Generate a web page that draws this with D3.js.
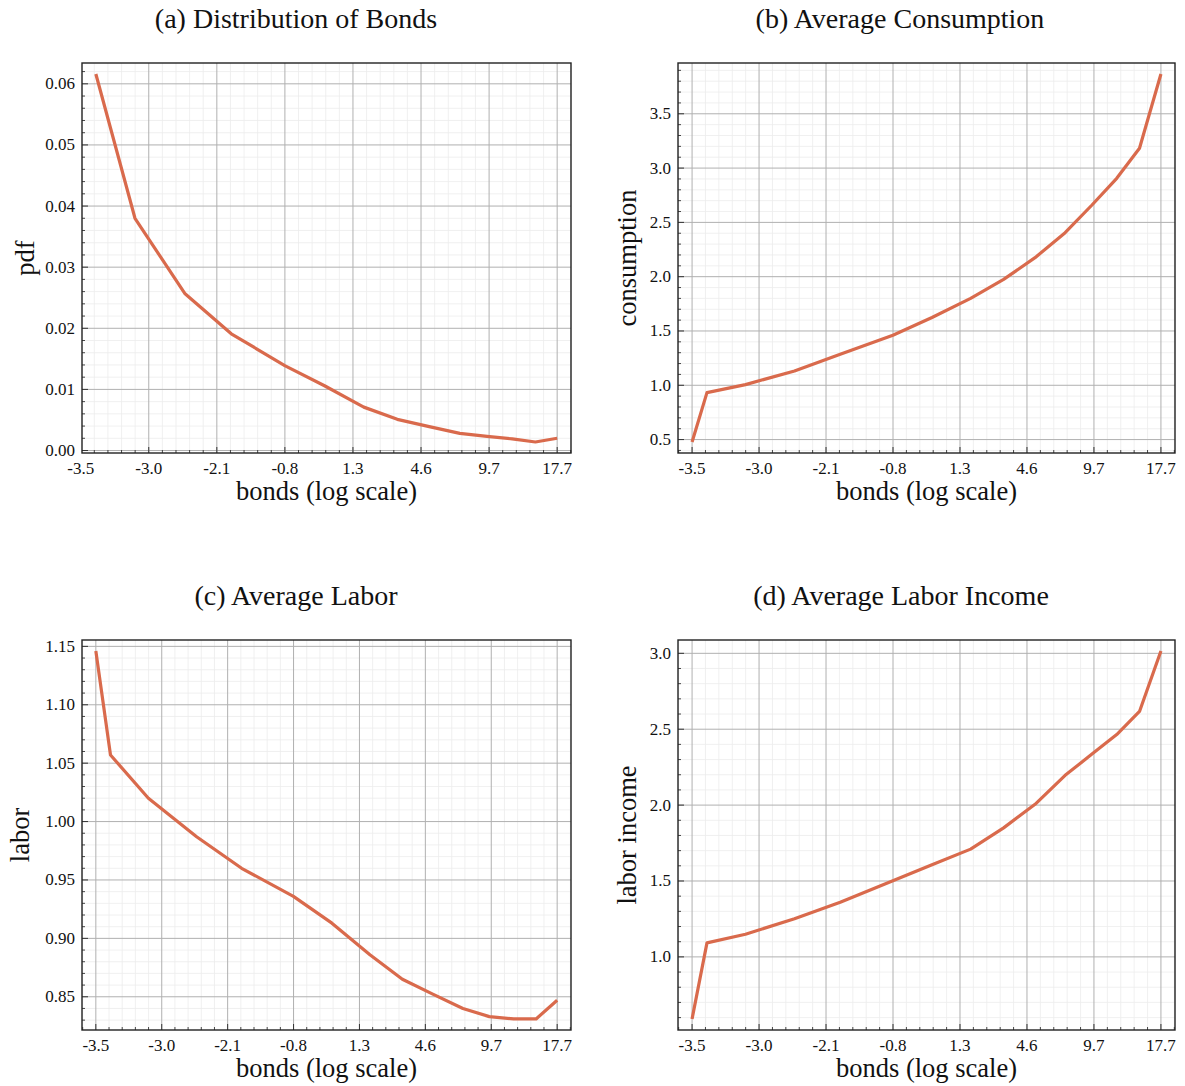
<!DOCTYPE html>
<html>
<head>
<meta charset="utf-8">
<script src="https://cdn.jsdelivr.net/npm/d3@7"></script>
<style>
  html, body { margin: 0; padding: 0; background: #fff; }
  svg { display: block; }
  text { font-family: "Liberation Serif", "DejaVu Serif", serif; fill: #111; }
</style>
</head>
<body>
<svg id="fig" width="1185" height="1086"></svg>
<script>
// Bond grid (levels); the axis is logarithmic in bonds + BOND_SHIFT
const BOND_SHIFT = 4.45;
const bonds = [-3.50, -3.40, -3.09, -2.56, -1.88, -0.79, 0.31, 1.72, 3.25, 5.06, 7.19, 9.49, 12.01, 14.73, 17.70];

// Stationary density of bonds (defined from the second grid point on)
const pdf = [0.0616, 0.0380, 0.0257, 0.0191, 0.0139, 0.0106, 0.0071, 0.0051, 0.0039, 0.0028, 0.0023, 0.0019, 0.0014, 0.0020];
// Averages by bond level
const consumption = [0.478, 0.932, 1.006, 1.132, 1.286, 1.461, 1.624, 1.800, 1.975, 2.175, 2.405, 2.660, 2.906, 3.183, 3.866];
const labor = [1.146, 1.057, 1.020, 0.987, 0.960, 0.936, 0.913, 0.886, 0.865, 0.852, 0.840, 0.833, 0.831, 0.831, 0.847];
const laborIncome = [0.591, 1.092, 1.149, 1.251, 1.360, 1.501, 1.607, 1.710, 1.850, 2.005, 2.196, 2.336, 2.465, 2.617, 3.015];

// Tick labels
const xTickLabels = ["-3.5", "-3.0", "-2.1", "-0.8", "1.3", "4.6", "9.7", "17.7"];
const pdfTicks = [0.00, 0.01, 0.02, 0.03, 0.04, 0.05, 0.06];
const consumptionTicks = [0.5, 1.0, 1.5, 2.0, 2.5, 3.0, 3.5];
const laborTicks = [0.85, 0.90, 0.95, 1.00, 1.05, 1.10, 1.15];
const incomeTicks = [1.0, 1.5, 2.0, 2.5, 3.0];

const titles = ["(a) Distribution of Bonds", "(b) Average Consumption", "(c) Average Labor", "(d) Average Labor Income"];
const yLabels = ["pdf", "consumption", "labor", "labor income"];

const LINE_COLOR = "#d96a4c";
const svg = d3.select("#fig");

const panels = [
  { frame: [82, 63, 571, 453], xs: bonds.slice(1), ys: pdf, yTicks: pdfTicks, fmt: ".2f", title: titles[0], yLabel: yLabels[0], titleX: 296, yLabelX: 28 },
  { frame: [678, 63, 1175, 453], xs: bonds, ys: consumption, yTicks: consumptionTicks, fmt: ".1f", title: titles[1], yLabel: yLabels[1], titleX: 900, yLabelX: 630 },
  { frame: [82, 640, 571, 1030], xs: bonds, ys: labor, yTicks: laborTicks, fmt: ".2f", title: titles[2], yLabel: yLabels[2], titleX: 296, yLabelX: 23 },
  { frame: [678, 640, 1175, 1030], xs: bonds, ys: laborIncome, yTicks: incomeTicks, fmt: ".1f", title: titles[3], yLabel: yLabels[3], titleX: 901, yLabelX: 630 }
];

// Major x ticks are evenly spaced in log(bonds + shift) between the grid ends
const logLo = Math.log(bonds[0] + BOND_SHIFT);
const logHi = Math.log(bonds[bonds.length - 1] + BOND_SHIFT);
const logStep = (logHi - logLo) / (xTickLabels.length - 1);
const xTickValues = xTickLabels.map((_, i) => Math.exp(logLo + i * logStep));

const MARGIN = 0.03;

panels.forEach(p => {
  const [x0, y0, x1, y1] = p.frame;
  const g = svg.append("g");

  // x: log scale on shifted bonds, padded by a fraction of the log range
  const lmin = Math.log(d3.min(p.xs) + BOND_SHIFT);
  const lmax = Math.log(d3.max(p.xs) + BOND_SHIFT);
  const lpad = (lmax - lmin) * MARGIN;
  const x = d3.scaleLog().domain([Math.exp(lmin - lpad), Math.exp(lmax + lpad)]).range([x0, x1]);

  const [ymin, ymax] = d3.extent(p.ys);
  const ypad = (ymax - ymin) * MARGIN;
  const y = d3.scaleLinear().domain([ymin - ypad, ymax + ypad]).range([y1, y0]);

  const inX = v => { const px = x(v); return px >= x0 - 0.01 && px <= x1 + 0.01; };
  const inY = v => { const py = y(v); return py >= y0 - 0.01 && py <= y1 + 0.01; };

  // minor x positions: fifths of a major step in log space
  const xMinor = [];
  for (let k = -10; k <= 45; k++) {
    const v = Math.exp(logLo + k * logStep / 5);
    if (k % 5 !== 0 && inX(v)) xMinor.push(v);
  }
  const yStep = p.yTicks[1] - p.yTicks[0];
  const yMinor = [];
  for (let k = -10; k <= (p.yTicks.length + 2) * 5; k++) {
    const v = p.yTicks[0] + k * yStep / 5;
    if (k % 5 !== 0 && inY(v)) yMinor.push(v);
  }
  const xMajor = xTickValues.filter(inX);
  const yMajor = p.yTicks.filter(inY);

  // minor grid
  g.append("g").selectAll("line").data(xMinor).join("line")
    .attr("x1", d => x(d)).attr("x2", d => x(d)).attr("y1", y0).attr("y2", y1)
    .attr("stroke", "#ececec").attr("stroke-width", 0.8);
  g.append("g").selectAll("line").data(yMinor).join("line")
    .attr("y1", d => y(d)).attr("y2", d => y(d)).attr("x1", x0).attr("x2", x1)
    .attr("stroke", "#ececec").attr("stroke-width", 0.8);
  // major grid
  g.append("g").selectAll("line").data(xMajor).join("line")
    .attr("x1", d => x(d)).attr("x2", d => x(d)).attr("y1", y0).attr("y2", y1)
    .attr("stroke", "#b0b0b0").attr("stroke-width", 1);
  g.append("g").selectAll("line").data(yMajor).join("line")
    .attr("y1", d => y(d)).attr("y2", d => y(d)).attr("x1", x0).attr("x2", x1)
    .attr("stroke", "#b0b0b0").attr("stroke-width", 1);

  // inward ticks on bottom and left
  const tickColor = "#333";
  g.append("g").selectAll("line").data(xMinor).join("line")
    .attr("x1", d => x(d)).attr("x2", d => x(d)).attr("y1", y1).attr("y2", y1 - 3)
    .attr("stroke", tickColor).attr("stroke-width", 0.9);
  g.append("g").selectAll("line").data(xMajor).join("line")
    .attr("x1", d => x(d)).attr("x2", d => x(d)).attr("y1", y1).attr("y2", y1 - 6)
    .attr("stroke", tickColor).attr("stroke-width", 1);
  g.append("g").selectAll("line").data(yMinor).join("line")
    .attr("y1", d => y(d)).attr("y2", d => y(d)).attr("x1", x0).attr("x2", x0 + 3)
    .attr("stroke", tickColor).attr("stroke-width", 0.9);
  g.append("g").selectAll("line").data(yMajor).join("line")
    .attr("y1", d => y(d)).attr("y2", d => y(d)).attr("x1", x0).attr("x2", x0 + 6)
    .attr("stroke", tickColor).attr("stroke-width", 1);

  // frame
  g.append("rect").attr("x", x0).attr("y", y0).attr("width", x1 - x0).attr("height", y1 - y0)
    .attr("fill", "none").attr("stroke", "#222").attr("stroke-width", 1.4);

  // x tick labels (kept when the tick sits at the frame edge)
  g.append("g").selectAll("text").data(xTickValues).join("text")
    .attr("x", d => x(d)).attr("y", y1 + 21)
    .attr("text-anchor", "middle").attr("font-size", 17)
    .text((d, i) => xTickLabels[i]);
  // y tick labels
  const yf = d3.format(p.fmt);
  g.append("g").selectAll("text").data(yMajor).join("text")
    .attr("x", x0 - 7).attr("y", d => y(d) + 5.5)
    .attr("text-anchor", "end").attr("font-size", 17)
    .text(d => yf(d));

  // series line
  const line = d3.line().x(d => x(d[0] + BOND_SHIFT)).y(d => y(d[1]));
  g.append("path").datum(d3.zip(p.xs, p.ys))
    .attr("d", line).attr("fill", "none")
    .attr("stroke", LINE_COLOR).attr("stroke-width", 3.2)
    .attr("stroke-linejoin", "round").attr("stroke-linecap", "butt");

  // labels
  g.append("text").attr("x", p.titleX).attr("y", y0 - 35)
    .attr("text-anchor", "middle").attr("font-size", 28).text(p.title);
  g.append("text").attr("x", (x0 + x1) / 2).attr("y", y1 + 47)
    .attr("text-anchor", "middle").attr("font-size", 26.5).text("bonds (log scale)");
  g.append("text")
    .attr("transform", `translate(${p.yLabelX},${(y0 + y1) / 2}) rotate(-90)`)
    .attr("text-anchor", "middle").attr("dominant-baseline", "middle")
    .attr("font-size", 26.5).text(p.yLabel);
});
</script>
</body>
</html>
